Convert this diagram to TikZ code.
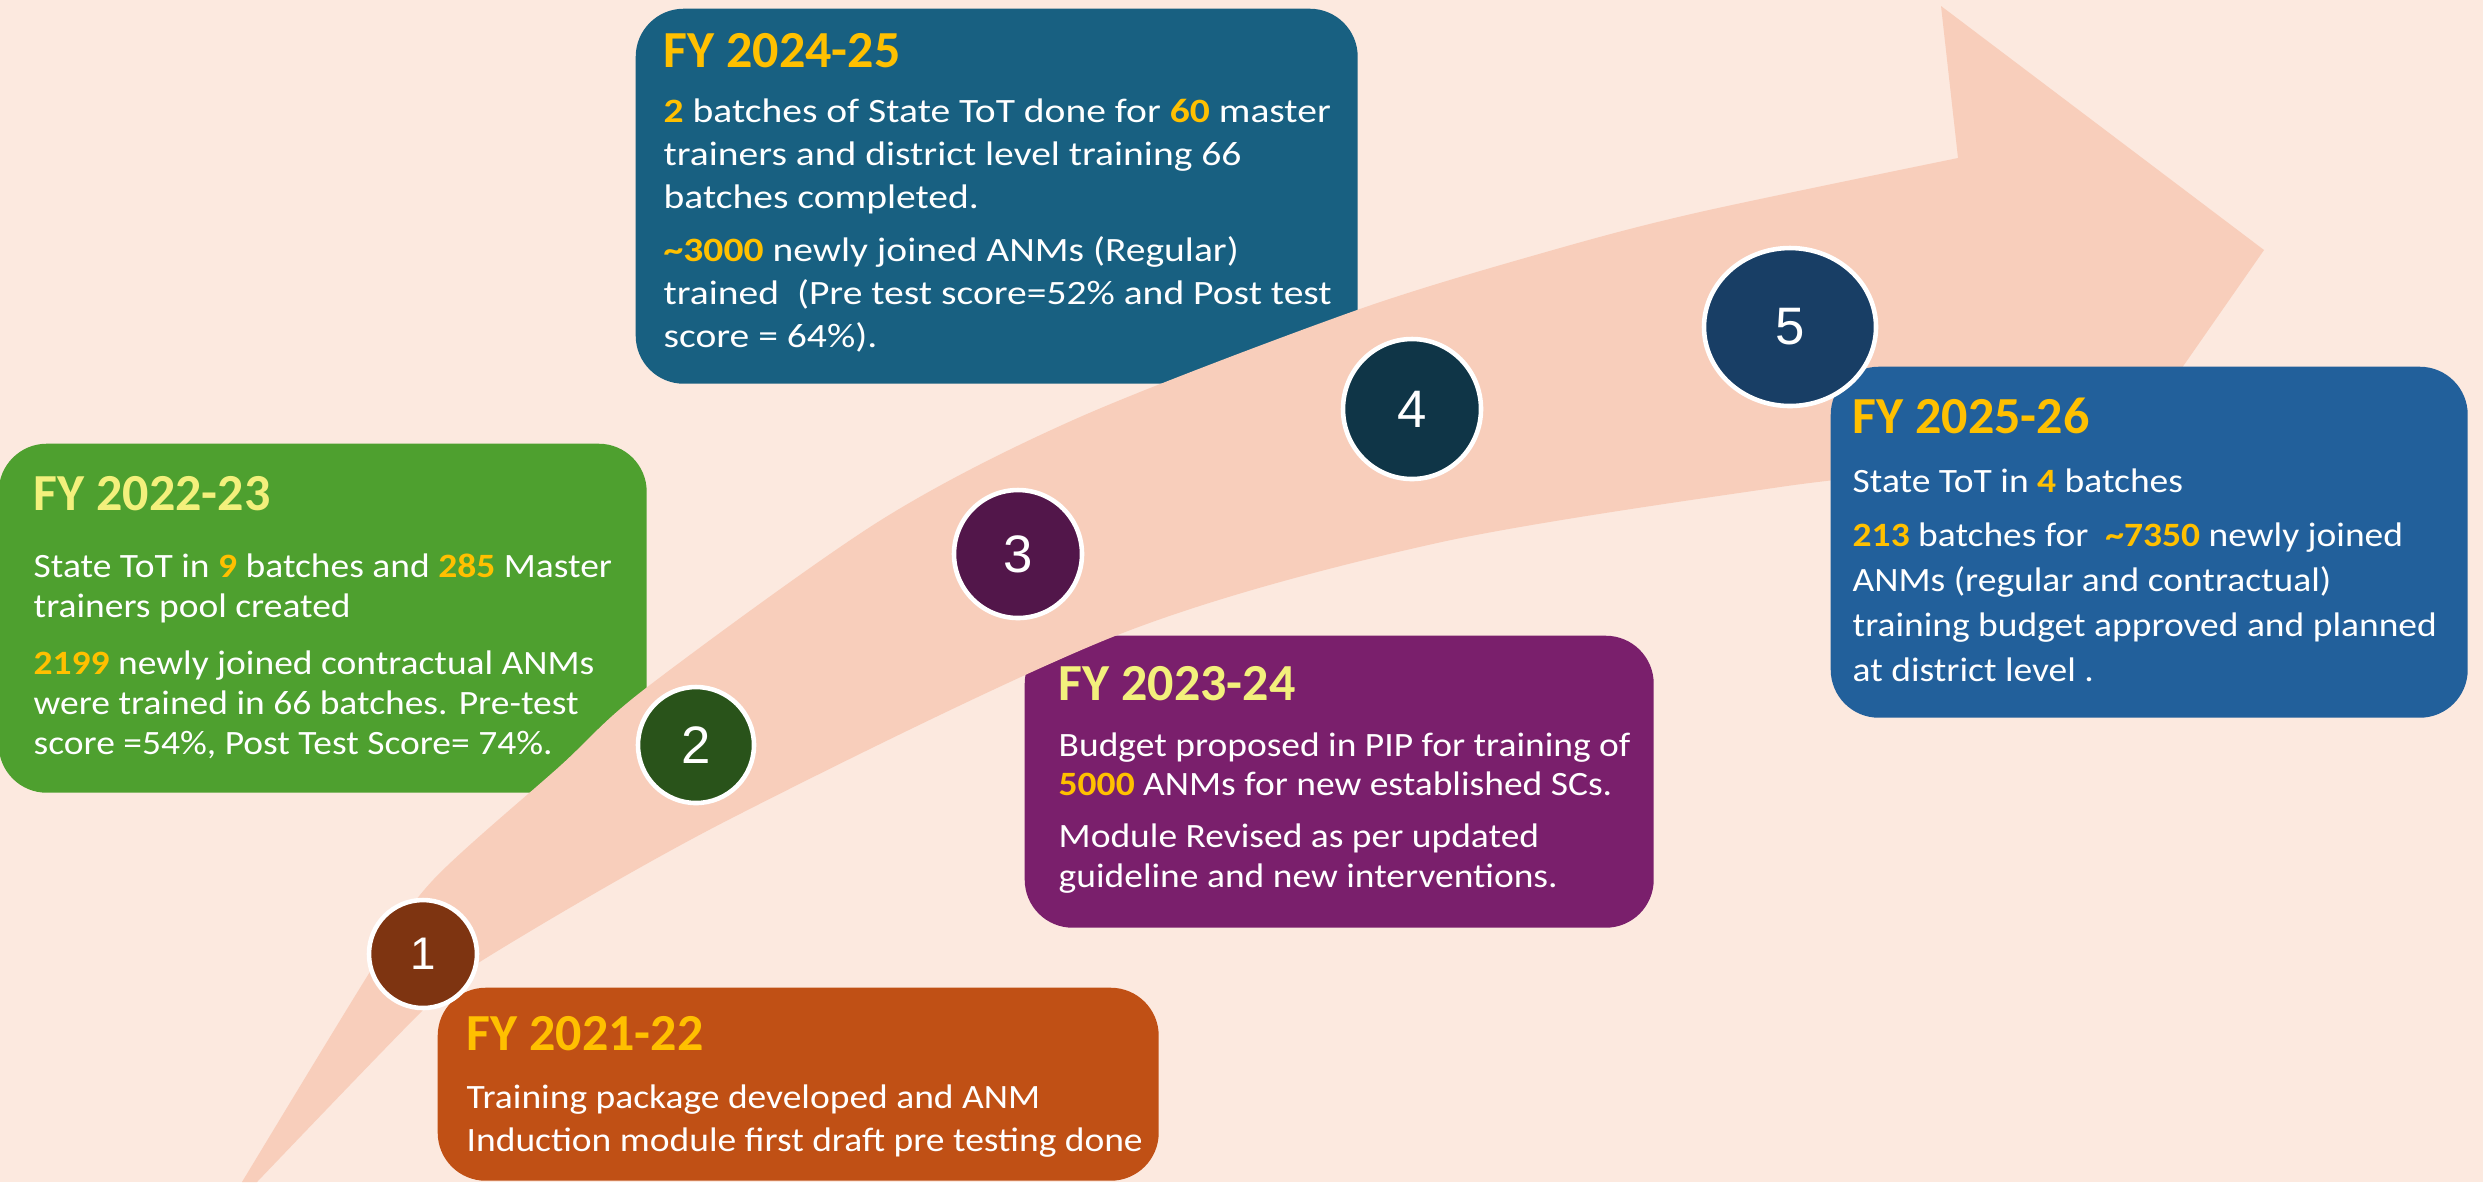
\documentclass[tikz,border=0pt]{standalone}
\usepackage{fontspec}
\setmainfont{Carlito}
\newfontfamily\bodyfont[FakeStretch=1.10]{Carlito}
\newfontfamily\widefont[FakeStretch=1.16]{Carlito}
\newfontfamily\numfont{Liberation Sans}
\usetikzlibrary{shapes.geometric}

\definecolor{bgpeach}{HTML}{FCE9DF}
\definecolor{arrowpeach}{HTML}{F8CEBB}
\definecolor{boxteal}{HTML}{186081}
\definecolor{boxgreen}{HTML}{4EA02F}
\definecolor{boxpurple}{HTML}{7A1F6C}
\definecolor{boxorange}{HTML}{C05015}
\definecolor{boxblue}{HTML}{22609B}
\definecolor{dotbrown}{HTML}{7E3411}
\definecolor{dotgreen}{HTML}{29531A}
\definecolor{dotpurple}{HTML}{52164A}
\definecolor{dotteal}{HTML}{0F3547}
\definecolor{dotnavy}{HTML}{183E65}
\definecolor{hlgold}{HTML}{FFC000}
\definecolor{paleyellow}{HTML}{F3F07C}

\newcommand{\hl}[1]{\textbf{\color{hlgold}#1}}
\newcommand{\yrhead}[3]{{\leavevmode\normalfont\fontsize{14.8pt}{16pt}\selectfont\bfseries\color{#1}#2}\par\vspace{#3}}

\begin{document}
\begin{tikzpicture}[x=1cm,y=1cm,
  yrbox/.style={rounded corners=0.48cm, inner sep=0pt, anchor=north west},
  yrtext/.style={text=white, inner sep=0pt, anchor=base west},
  stepno/.style={ellipse, draw=white, line width=1.3pt, text=white, inner sep=0pt,
    font=\numfont\fontsize{15pt}{15pt}\selectfont}]

\useasboundingbox (0,0) rectangle (24.83,-11.82);
\fill[bgpeach] (0,0) rectangle (24.83,-11.82);

% boxes lying under the arrow
\node[yrbox, fill=boxteal, minimum width=7.22cm, minimum height=3.75cm] (b2425) at (6.35,-0.08) {};
\node[yrtext] (t2425) at (6.63,-0.67) {\parbox[t]{9cm}{\raggedright\widefont\fontsize{9.7pt}{12.2pt}\selectfont
  \yrhead{hlgold}{FY 2024-25}{3.7pt}
  \hl{2} batches of State ToT done for \hl{60} master\newline
  trainers and district level training 66\newline
  batches completed.\par\vspace{2.8pt}
  \hl{\textasciitilde3000} newly joined ANMs (Regular)\newline
  trained~ (Pre test score=52\% and Post test\newline
  score = 64\%).}};

\node[yrbox, fill=boxgreen, minimum width=6.48cm, minimum height=3.49cm] (b2223) at (-0.02,-4.43) {};
\node[yrtext] (t2223) at (0.33,-5.10) {\parbox[t]{9cm}{\raggedright\bodyfont\fontsize{9.7pt}{11.4pt}\selectfont
  \yrhead{paleyellow}{FY 2022-23}{7.7pt}
  State ToT in \hl{9} batches and \hl{285} Master\newline
  trainers pool created\par\vspace{4.8pt}
  \hl{2199} newly joined contractual ANMs\newline
  were trained in 66 batches. Pre-test\newline
  score =54\%, Post Test Score= 74\%.}};

\node[yrbox, fill=boxpurple, minimum width=6.29cm, minimum height=2.92cm] (b2324) at (10.24,-6.35) {};
\node[yrtext] (t2324) at (10.58,-7.00) {\parbox[t]{9cm}{\raggedright\bodyfont\fontsize{9.7pt}{11.1pt}\selectfont
  \yrhead{paleyellow}{FY 2023-24}{5.1pt}
  Budget proposed in PIP for training of\newline
  \hl{5000} ANMs for new established SCs.\par\vspace{3.7pt}
  Module Revised as per updated\newline
  guideline and new interventions.}};

% the big curved arrow
\fill[arrowpeach] plot[smooth] coordinates {(2.42,-11.82) (3.73,-9.67) (4.33,-8.80) (5.60,-7.66)
    (6.46,-6.88) (8.81,-5.20) (10.80,-4.17) (13.57,-3.10) (15.53,-2.50) (17.00,-2.12) (19.58,-1.58)}
  -- (19.41,-0.06) -- (22.64,-2.50) -- (20.76,-5.20)
  -- plot[smooth] coordinates {(19.20,-4.72) (17.80,-4.87) (14.37,-5.43) (11.20,-6.34) (7.28,-8.20)
    (4.78,-9.63) (4.20,-10.13) (2.57,-11.82)} -- cycle;

% boxes lying over the arrow
\node[yrbox, fill=boxorange, minimum width=7.21cm, minimum height=1.93cm] (b2122) at (4.37,-9.87) {};
\node[yrtext] (t2122) at (4.66,-10.50) {\parbox[t]{9cm}{\raggedright\bodyfont\fontsize{9.7pt}{12.5pt}\selectfont
  \yrhead{hlgold}{FY 2021-22}{4.0pt}
  Training package developed and ANM\newline
  Induction module first draft pre testing done}};

\node[yrbox, fill=boxblue, minimum width=6.37cm, minimum height=3.51cm] (b2526) at (18.30,-3.66) {};
\node[yrtext] (t2526) at (18.52,-4.33) {\parbox[t]{9cm}{\raggedright\bodyfont\fontsize{9.7pt}{12.8pt}\selectfont
  \yrhead{hlgold}{FY 2025-26}{4.0pt}
  State ToT in \hl{4} batches\par\vspace{2.8pt}
  \hl{213} batches for~ \hl{\textasciitilde7350} newly joined\newline
  ANMs (regular and contractual)\newline
  training budget approved and planned\newline
  at district level .}};

% numbered steps
\node[stepno, fill=dotbrown, minimum width=1.08cm, minimum height=1.08cm,
  font=\numfont\fontsize{13pt}{13pt}\selectfont] (s1) at (4.23,-9.54) {1};
\node[stepno, fill=dotgreen, minimum width=1.16cm, minimum height=1.16cm] (s2) at (6.96,-7.45) {2};
\node[stepno, fill=dotpurple, minimum width=1.28cm, minimum height=1.28cm] (s3) at (10.18,-5.54) {3};
\node[stepno, fill=dotteal, minimum width=1.38cm, minimum height=1.40cm] (s4) at (14.12,-4.09) {4};
\node[stepno, fill=dotnavy, minimum width=1.72cm, minimum height=1.58cm] (s5) at (17.90,-3.27) {5};

\end{tikzpicture}
\end{document}
